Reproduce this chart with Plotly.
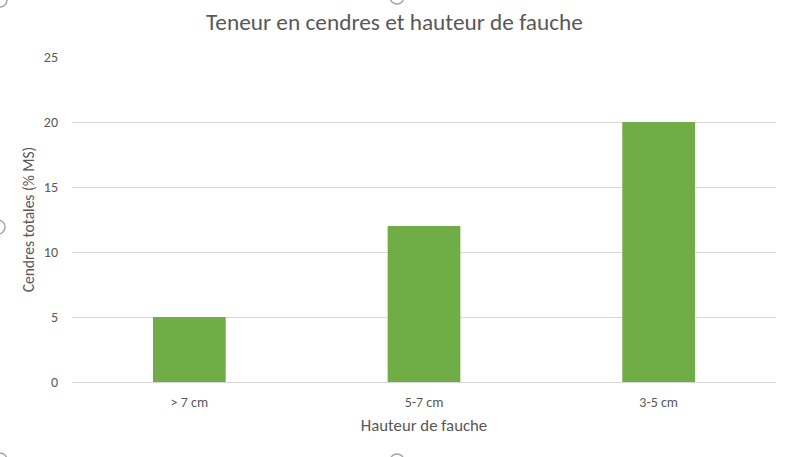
import plotly.graph_objects as go

categories = ["> 7 cm", "5-7 cm", "3-5 cm"]
values = [5, 12, 20]
y_ticks = [0, 5, 10, 15, 20, 25]

W, H = 789, 457
L, R, T, B = 72, 13, 57, 75
pw, ph = W - L - R, H - T - B

def px(x):
    return (x - L) / pw

def py(y):
    return (H - B - y) / ph

fig = go.Figure(go.Bar(
    x=categories, y=values,
    marker=dict(color="#70AD47", line=dict(width=0)),
    hoverinfo="x+y",
))

font = "Carlito, Lato, 'Open Sans', sans-serif"

# Excel-style selection handles (decorative)
shapes = []
for cx, cy in [(0, 0), (397, -3), (-2, 227), (0, 460), (397, 461)]:
    r = 7
    shapes.append(dict(type="circle", xref="paper", yref="paper",
                       x0=px(cx - r), x1=px(cx + r), y0=py(cy + r), y1=py(cy - r),
                       line=dict(color="#a6a6a6", width=1.5), fillcolor="rgba(0,0,0,0)",
                       layer="above"))

fig.update_layout(
    width=W, height=H,
    margin=dict(l=L, r=R, t=T, b=B),
    paper_bgcolor="white", plot_bgcolor="white",
    font=dict(family=font, color="#595959"),
    title=dict(text="Teneur en cendres et hauteur de fauche", x=0.5, xref="container",
               xanchor="center", y=1 - 22 / H, yanchor="middle",
               font=dict(size=23.3, color="#595959", family=font)),
    bargap=0.69,
    showlegend=False,
    shapes=shapes,
    xaxis=dict(
        title=dict(text="Hauteur de fauche", font=dict(size=16.8, color="#595959"), standoff=9),
        tickfont=dict(size=14, color="#595959"),
        showgrid=False, showline=True, linecolor="#d9d9d9", linewidth=1,
        ticks="", ticklabelstandoff=7,
    ),
    yaxis=dict(
        title=dict(text="Cendres totales (% MS)", font=dict(size=15.5, color="#595959"), standoff=5),
        tickfont=dict(size=14, color="#595959"),
        range=[0, 25], tickvals=y_ticks,
        showgrid=True, gridcolor="#d9d9d9", gridwidth=1,
        zeroline=False, ticks="", ticklabelstandoff=13,
    ),
)

fig.write_html(
    "out.html",
    config={"displayModeBar": False},
    post_script="document.body.style.margin='0';document.body.style.overflow='hidden';",
)
